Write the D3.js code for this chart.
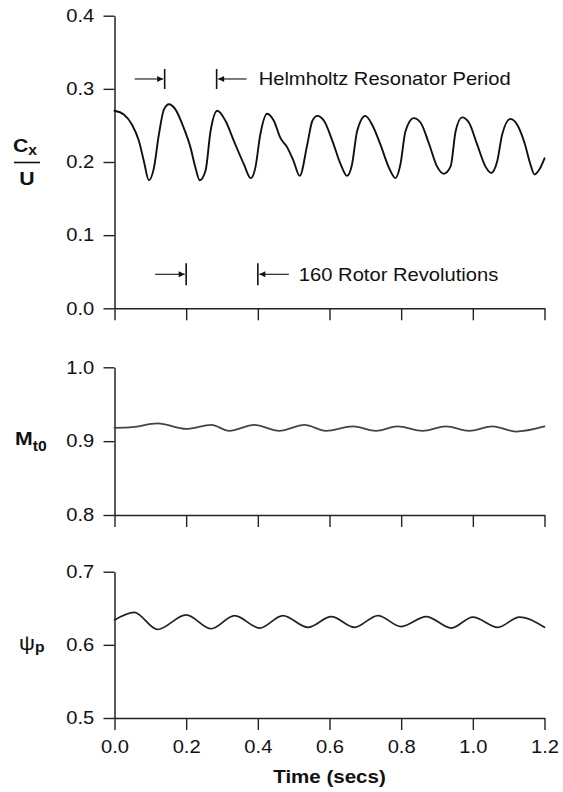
<!DOCTYPE html>
<html>
<head>
<meta charset="utf-8">
<script src="https://cdn.jsdelivr.net/npm/d3@7"></script>
<style>
  html, body { margin: 0; padding: 0; background: #fff; }
  svg { display: block; }
  text { font-family: "Liberation Sans", Arial, Helvetica, sans-serif; fill: #111; }
</style>
</head>
<body>
<svg id="chart" width="563" height="792"></svg>
<script>
// ---------------- DATA ----------------
const timeTicks = [0, 0.2, 0.4, 0.6, 0.8, 1.0, 1.2];
const cxTicks = [0.0, 0.1, 0.2, 0.3, 0.4];
const mtTicks = [0.8, 0.9, 1.0];
const psiTicks = [0.5, 0.6, 0.7];

// Cx/U vs time (secs)
const cxData = [
  [0.000, 0.270], [0.026, 0.265], [0.049, 0.251], [0.068, 0.229], [0.082, 0.201],
  [0.096, 0.175], [0.110, 0.192], [0.124, 0.238], [0.138, 0.272], [0.152, 0.279],
  [0.170, 0.272], [0.193, 0.247], [0.212, 0.220], [0.226, 0.192], [0.238, 0.175],
  [0.254, 0.188], [0.268, 0.242], [0.287, 0.270], [0.310, 0.256], [0.333, 0.229],
  [0.361, 0.197], [0.380, 0.178], [0.393, 0.192], [0.407, 0.238], [0.426, 0.266],
  [0.445, 0.256], [0.463, 0.233], [0.482, 0.220], [0.500, 0.201], [0.517, 0.181],
  [0.538, 0.224], [0.552, 0.256], [0.566, 0.263], [0.585, 0.256], [0.608, 0.229],
  [0.631, 0.197], [0.649, 0.181], [0.663, 0.197], [0.677, 0.242], [0.700, 0.263],
  [0.719, 0.251], [0.742, 0.224], [0.766, 0.192], [0.784, 0.178], [0.798, 0.197],
  [0.812, 0.242], [0.835, 0.260], [0.854, 0.254], [0.877, 0.226], [0.900, 0.194],
  [0.919, 0.184], [0.938, 0.194], [0.952, 0.242], [0.970, 0.261], [0.989, 0.254],
  [1.012, 0.224], [1.035, 0.194], [1.051, 0.185], [1.068, 0.201], [1.082, 0.238],
  [1.105, 0.259], [1.125, 0.250], [1.145, 0.225], [1.160, 0.198], [1.172, 0.183],
  [1.186, 0.190], [1.200, 0.205]
];

// Mt0 vs time
const mtData = [
  [0.000, 0.918], [0.050, 0.919], [0.120, 0.924], [0.200, 0.9165], [0.270, 0.922],
  [0.320, 0.914], [0.390, 0.922], [0.460, 0.914], [0.530, 0.922], [0.590, 0.914],
  [0.665, 0.920], [0.730, 0.914], [0.790, 0.920], [0.860, 0.914], [0.925, 0.920],
  [0.990, 0.914], [1.055, 0.920], [1.120, 0.913], [1.200, 0.920]
];

// psi_p vs time
const psiData = [
  [0.000, 0.634], [0.055, 0.6445], [0.120, 0.621], [0.200, 0.641], [0.270, 0.622],
  [0.335, 0.640], [0.405, 0.623], [0.470, 0.640], [0.540, 0.624], [0.605, 0.6386],
  [0.670, 0.624], [0.735, 0.640], [0.800, 0.625], [0.870, 0.6386], [0.940, 0.623],
  [1.000, 0.638], [1.070, 0.624], [1.130, 0.638], [1.200, 0.624]
];

// annotation marks (time positions of the bars)
const helmholtzMarks = [0.14, 0.285];
const helmholtzLabel = "Helmholtz Resonator Period";
const rotorMarks = [0.2, 0.4];
const rotorLabel = "160 Rotor Revolutions";

// ---------------- LAYOUT ----------------
const svg = d3.select("#chart");
const x = d3.scaleLinear().domain([0, 1.2]).range([114.5, 544.5]);

const panels = [
  { key: "cx",  data: cxData,  ticks: cxTicks,  domain: [0, 0.4],   range: [308.3, 15.7], width: 1.9, color: "#111" },
  { key: "mt",  data: mtData,  ticks: mtTicks,  domain: [0.8, 1.0], range: [515, 367.3],  width: 1.8, color: "#444" },
  { key: "psi", data: psiData, ticks: psiTicks, domain: [0.5, 0.7], range: [718, 571.7],  width: 1.7, color: "#222" }
];

const SX = 1.12; // horizontal stretch of the lettering
const fmt = d3.format(".1f");

panels.forEach((p, i) => {
  p.y = d3.scaleLinear().domain(p.domain).range(p.range);
  const g = svg.append("g");

  // y axis
  const ya = g.append("g").attr("transform", `translate(${x(0)},0)`)
    .call(d3.axisLeft(p.y).tickValues(p.ticks).tickFormat(fmt).tickSize(11).tickPadding(7).tickSizeOuter(0));
  ya.select(".domain").attr("stroke", "#222").attr("stroke-width", 1.5);
  ya.selectAll(".tick line").attr("stroke", "#222").attr("stroke-width", 1.4);
  ya.selectAll(".tick text").attr("font-size", 18).attr("fill", "#111")
    .attr("font-family", "'Liberation Sans', Arial, sans-serif")
    .attr("transform", `scale(${SX},1)`);

  // x axis
  const last = i === panels.length - 1;
  const xa = g.append("g").attr("transform", `translate(0,${p.y(p.domain[0])})`)
    .call(d3.axisBottom(x).tickValues(timeTicks).tickFormat(last ? fmt : () => "").tickSize(12).tickPadding(10).tickSizeOuter(0));
  xa.select(".domain").attr("stroke", "#222").attr("stroke-width", 1.5);
  xa.selectAll(".tick line").attr("stroke", "#222").attr("stroke-width", 1.4);
  xa.selectAll(".tick text").attr("font-size", 18).attr("fill", "#111")
    .attr("font-family", "'Liberation Sans', Arial, sans-serif")
    .attr("transform", `scale(${SX},1)`)
    .attr("x", 0);

  // curve
  const line = d3.line().x(d => x(d[0])).y(d => p.y(d[1])).curve(d3.curveMonotoneX);
  g.append("path").datum(p.data)
    .attr("d", line).attr("fill", "none")
    .attr("stroke", p.color).attr("stroke-width", p.width)
    .attr("stroke-linejoin", "round").attr("stroke-linecap", "round");
});

// ---------------- ANNOTATIONS ----------------
const yTop = panels[0].y;
svg.append("defs").append("marker")
  .attr("id", "ah").attr("viewBox", "0 0 10 10").attr("refX", 10).attr("refY", 5)
  .attr("markerWidth", 8).attr("markerHeight", 6).attr("markerUnits", "userSpaceOnUse")
  .attr("orient", "auto")
  .append("path").attr("d", "M0,0 L10,5 L0,10 Z").attr("fill", "#111");

function annotate(marks, label, yv, halfBar, arrowLen, textGap) {
  const yc = yTop(yv);
  const g = svg.append("g");
  marks.forEach((m, k) => {
    const xm = x(m);
    g.append("line").attr("x1", xm).attr("x2", xm).attr("y1", yc - halfBar).attr("y2", yc + halfBar)
      .attr("stroke", "#111").attr("stroke-width", 1.6);
    const tail = k === 0 ? xm - arrowLen : xm + arrowLen;
    const head = k === 0 ? xm - 1.5 : xm + 1.5;
    g.append("line").attr("x1", tail).attr("x2", head).attr("y1", yc).attr("y2", yc)
      .attr("stroke", "#111").attr("stroke-width", 1.1).attr("marker-end", "url(#ah)");
  });
  const tx = x(marks[1]) + arrowLen + textGap;
  g.append("text").attr("transform", `translate(${tx},${yc + 6.5}) scale(${SX},1)`)
    .attr("font-size", 18).text(label);
}
annotate(helmholtzMarks, helmholtzLabel, 0.3135, 10, 30, 12);
annotate(rotorMarks, rotorLabel, 0.0465, 11, 31, 10);

// ---------------- AXIS TITLES ----------------
// Cx / U
const cx = svg.append("text").attr("font-weight", "bold").attr("font-size", 19)
  .attr("transform", `translate(13,152) scale(${SX},1)`);
cx.append("tspan").text("C");
cx.append("tspan").attr("font-size", 14).attr("dy", 3).text("x");
svg.append("line").attr("x1", 14).attr("x2", 40).attr("y1", 162.5).attr("y2", 162.5)
  .attr("stroke", "#111").attr("stroke-width", 1.6);
svg.append("text").attr("font-weight", "bold").attr("font-size", 19)
  .attr("transform", `translate(27,185) scale(${SX},1)`).attr("text-anchor", "middle").text("U");

// Mt0
const mt = svg.append("text").attr("font-weight", "bold").attr("font-size", 19)
  .attr("transform", `translate(15,445) scale(${SX},1)`);
mt.append("tspan").text("M");
mt.append("tspan").attr("font-size", 14).attr("dy", 6).text("t0");

// psi_p
const ps = svg.append("text").attr("font-size", 20)
  .attr("transform", `translate(19,650) scale(${SX},1)`);
ps.append("tspan").text("\u03C8");
ps.append("tspan").attr("font-size", 14).attr("font-weight", "bold").attr("dy", 2).text("p");

// Time (secs)
svg.append("text").attr("font-weight", "bold").attr("font-size", 19)
  .attr("text-anchor", "middle")
  .attr("transform", `translate(${x(0.6)},783) scale(1.08,1)`)
  .text("Time (secs)");
</script>
</body>
</html>
